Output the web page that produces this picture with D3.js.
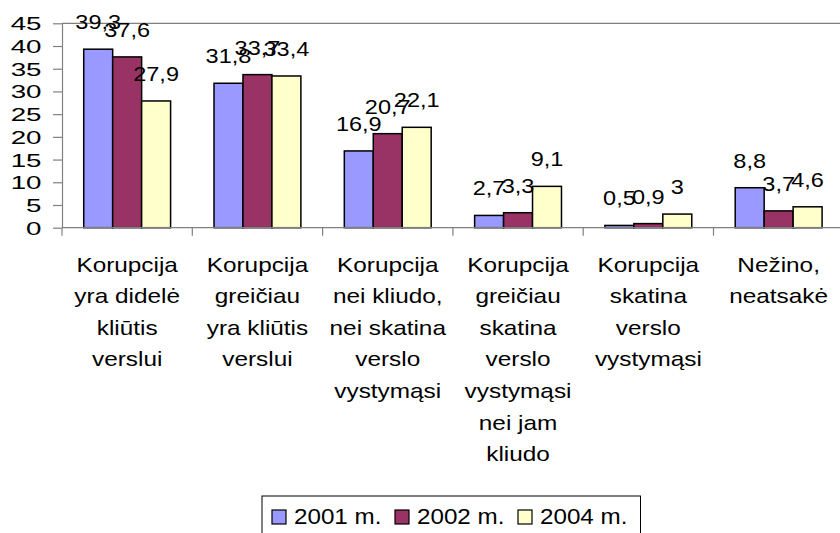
<!DOCTYPE html>
<html>
<head>
<meta charset="utf-8">
<script src="https://cdn.jsdelivr.net/npm/d3@7"></script>
<style>
  body { margin: 0; background: #fff; }
  text { font-family: "Liberation Sans", Arial, sans-serif; fill: #000; }
</style>
</head>
<body>
<div id="chart"></div>
<script>
var width = 840, height = 533;

var categories = [
    ['Korupcija', 'yra didelė', 'kliūtis', 'verslui'],
    ['Korupcija', 'greičiau', 'yra kliūtis', 'verslui'],
    ['Korupcija', 'nei kliudo,', 'nei skatina', 'verslo', 'vystymąsi'],
    ['Korupcija', 'greičiau', 'skatina', 'verslo', 'vystymąsi', 'nei jam', 'kliudo'],
    ['Korupcija', 'skatina', 'verslo', 'vystymąsi'],
    ['Nežino,', 'neatsakė']
];
var seriesNames = ['2001 m.', '2002 m.', '2004 m.'];
var colors = ['#9999ff', '#993366', '#ffffcc'];
var v2001 = [39.3, 31.8, 16.9, 2.7, 0.5, 8.8];
var v2002 = [37.6, 33.7, 20.7, 3.3, 0.9, 3.7];
var v2004 = [27.9, 33.4, 22.1, 9.1, 3, 4.6];
var yTicks = [0, 5, 10, 15, 20, 25, 30, 35, 40, 45];

var series = [v2001, v2002, v2004];
var plotLeft = 62, plotTop = 23.3, plotBottom = 227.7, step = 130.3;

var svg = d3.select('#chart')
    .append('svg')
    .attr('width', width)
    .attr('height', height);

var x = d3.scaleBand()
    .domain(d3.range(categories.length))
    .range([plotLeft, plotLeft + step * categories.length]);

var xs = d3.scaleBand()
    .domain(d3.range(series.length))
    .range([0, x.bandwidth()])
    .paddingOuter(0.75);

var y = d3.scaleLinear()
    .domain([0, 45])
    .range([plotBottom, plotTop]);

// plot area top border
svg.append('line')
    .attr('x1', plotLeft).attr('x2', width)
    .attr('y1', y(45)).attr('y2', y(45))
    .attr('stroke', '#808080').attr('stroke-width', 1.2);

// y axis
var yAxis = svg.append('g')
    .attr('transform', 'translate(' + plotLeft + ',0)')
    .call(d3.axisLeft(y).tickValues(yTicks).tickSize(9).tickSizeOuter(0));
yAxis.select('.domain').attr('stroke', '#808080').attr('stroke-width', 1.2);
yAxis.selectAll('.tick line').attr('stroke', '#808080').attr('stroke-width', 1.2);
yAxis.selectAll('.tick text')
    .attr('x', 0)
    .attr('dy', '0.35em')
    .attr('transform', 'translate(-20.5,0) scale(1.5,1)')
    .style('font-size', '18.5px')
    .style('font-family', '"Liberation Sans", Arial, sans-serif')
    .attr('fill', '#000');

// bars
series.forEach(function(vals, s){
    svg.selectAll('.bar' + s)
        .data(vals)
        .enter()
        .append('rect')
        .attr('class', 'bar' + s)
        .attr('x', function(d, i){ return x(i) + xs(s); })
        .attr('y', function(d){ return y(d); })
        .attr('width', xs.bandwidth())
        .attr('height', function(d){ return y(0) - y(d); })
        .attr('fill', colors[s])
        .attr('stroke', '#000')
        .attr('stroke-width', 1.5);
});

// x axis
svg.append('line')
    .attr('x1', plotLeft).attr('x2', width)
    .attr('y1', y(0)).attr('y2', y(0))
    .attr('stroke', '#808080').attr('stroke-width', 1.2);
svg.selectAll('.xtick')
    .data(d3.range(categories.length + 1))
    .enter()
    .append('line')
    .attr('x1', function(d){ return plotLeft + d * x.step(); })
    .attr('x2', function(d){ return plotLeft + d * x.step(); })
    .attr('y1', y(0)).attr('y2', y(0) + 8)
    .attr('stroke', '#808080').attr('stroke-width', 1.2);

// value labels
series.forEach(function(vals, s){
    svg.selectAll('.lab' + s)
        .data(vals)
        .enter()
        .append('text')
        .attr('transform', function(d, i){
            var cx = x(i) + xs(s) + xs.bandwidth() / 2;
            return 'translate(' + cx + ',' + (y(d) - 20) + ') scale(1.12,1)';
        })
        .attr('text-anchor', 'middle')
        .style('font-size', '21px')
        .text(function(d){ return String(d).replace('.', ','); });
});

// category labels
var cat = svg.selectAll('.cat')
    .data(categories)
    .enter()
    .append('text')
    .attr('class', 'cat')
    .attr('text-anchor', 'middle')
    .style('font-size', '21px')
    .attr('transform', function(d, i){
        return 'translate(' + (x(i) + x.bandwidth() / 2) + ',271.7) scale(1.16,1)';
    });
cat.selectAll('tspan')
    .data(function(d){ return d; })
    .enter()
    .append('tspan')
    .attr('x', 0)
    .attr('y', function(d, i){ return i * 31.6; })
    .text(function(d){ return d; });

// legend
svg.append('rect')
    .attr('x', 262).attr('y', 496)
    .attr('width', 378.5).attr('height', 60)
    .attr('fill', '#fff')
    .attr('stroke', '#000').attr('stroke-width', 1);

var legX = [272, 395, 518];
var leg = svg.selectAll('.leg')
    .data(seriesNames)
    .enter()
    .append('g')
    .attr('transform', function(d, i){ return 'translate(' + legX[i] + ',510)'; });
leg.append('rect')
    .attr('width', 14).attr('height', 14)
    .attr('fill', function(d, i){ return colors[i]; })
    .attr('stroke', '#000').attr('stroke-width', 1.2);
leg.append('text')
    .attr('transform', 'translate(22,13.5) scale(1.1,1)')
    .style('font-size', '22px')
    .text(function(d){ return d; });
</script>
</body>
</html>
